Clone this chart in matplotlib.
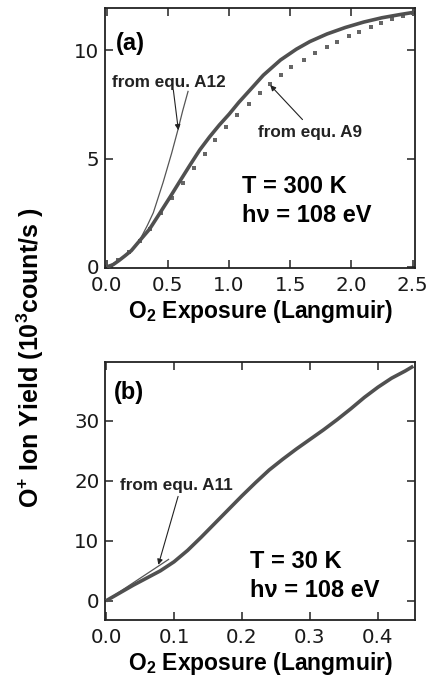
import matplotlib
matplotlib.use("Agg")
import matplotlib.pyplot as plt

plt.rcParams['font.family'] = ['Liberation Sans', 'DejaVu Sans']
plt.rcParams['mathtext.fontset'] = 'custom'
plt.rcParams['mathtext.rm'] = 'Liberation Sans'
plt.rcParams['mathtext.bf'] = 'Liberation Sans:bold'

# ---------------- Panel (a) data: T = 300 K ----------------
a_meas_x = [0, 0.05, 0.10, 0.15, 0.20, 0.27, 0.35, 0.43, 0.52, 0.60, 0.68, 0.76, 0.84,
            0.92, 1.00, 1.08, 1.17, 1.28, 1.42, 1.55, 1.66, 1.80, 1.95, 2.10, 2.25,
            2.40, 2.51]
a_meas_y = [0, 0.10, 0.30, 0.52, 0.75, 1.22, 1.75, 2.45, 3.25, 3.98, 4.70, 5.40, 6.00,
            6.55, 7.05, 7.60, 8.16, 8.85, 9.55, 10.05, 10.40, 10.75, 11.05, 11.30, 11.50,
            11.65, 11.75]

a_A9_x = [0.0, 0.09, 0.18, 0.27, 0.35, 0.44, 0.53, 0.62, 0.71, 0.80, 0.885, 0.975,
          1.067, 1.16, 1.25, 1.336, 1.426, 1.51, 1.61, 1.70, 1.80, 1.88, 1.98, 2.06,
          2.16, 2.24, 2.33, 2.42, 2.50]
a_A9_y = [0, 0.30, 0.70, 1.20, 1.75, 2.50, 3.20, 3.87, 4.55, 5.20, 5.85, 6.45,
          7.00, 7.54, 8.03, 8.46, 8.85, 9.24, 9.57, 9.87, 10.15, 10.37, 10.65, 10.83,
          11.07, 11.25, 11.42, 11.58, 11.72]

a_A12_x = [0, 0.10, 0.20, 0.27, 0.33, 0.38, 0.46, 0.53, 0.58, 0.62, 0.664]
a_A12_y = [0, 0.30, 0.75, 1.25, 1.90, 2.50, 3.90, 5.25, 6.30, 7.20, 8.10]

a_xticks = [0.0, 0.5, 1.0, 1.5, 2.0, 2.5]
a_xticklabels = ["0.0", "0.5", "1.0", "1.5", "2.0", "2.5"]
a_yticks = [0, 5, 10]

# ---------------- Panel (b) data: T = 30 K ----------------
b_meas_x = [0, 0.02, 0.04, 0.06, 0.08, 0.10, 0.12, 0.14, 0.16, 0.18, 0.20, 0.22, 0.24,
            0.26, 0.28, 0.30, 0.32, 0.34, 0.36, 0.38, 0.40, 0.42, 0.44, 0.452]
b_meas_y = [0, 1.3, 2.6, 3.8, 5.0, 6.5, 8.4, 10.6, 12.9, 15.2, 17.5, 19.7, 21.8,
            23.6, 25.3, 26.9, 28.5, 30.2, 32.0, 33.9, 35.6, 37.1, 38.3, 39.1]

b_A11_x = [0.0, 0.092]
b_A11_y = [0.0, 6.9]

b_xticks = [0.0, 0.1, 0.2, 0.3, 0.4]
b_xticklabels = ["0.0", "0.1", "0.2", "0.3", "0.4"]
b_yticks = [0, 10, 20, 30]

# ---------------- Figure ----------------
W, H = 427, 681
fig = plt.figure(figsize=(W / 100, H / 100), dpi=100)

ax_a = fig.add_axes([105 / W, 1 - 268 / H, 310 / W, 260 / H])
ax_b = fig.add_axes([105 / W, 1 - 620 / H, 310 / W, 258 / H])

line_col = '#505050'
frame_col = '#222222'

# panel a
ax_a.plot(a_meas_x, a_meas_y, color=line_col, lw=2.6, solid_capstyle='butt', zorder=3)
ax_a.plot(a_A9_x, a_A9_y, ls='none', marker='s', ms=3.0, color='#666666', mew=0, zorder=2)
ax_a.plot(a_A12_x, a_A12_y, color='#555555', lw=0.9, zorder=2)
ax_a.set_xlim(-0.015, 2.52)
ax_a.set_ylim(-0.05, 11.95)
ax_a.set_xticks(a_xticks)
ax_a.set_xticklabels(a_xticklabels)
ax_a.set_yticks(a_yticks)

# panel b
ax_b.plot(b_meas_x, b_meas_y, color=line_col, lw=2.6, solid_capstyle='butt', zorder=3)
ax_b.plot(b_A11_x, b_A11_y, color='#555555', lw=0.9, zorder=2)
ax_b.set_xlim(-0.0015, 0.4545)
ax_b.set_ylim(-3.2, 39.8)
ax_b.set_xticks(b_xticks)
ax_b.set_xticklabels(b_xticklabels)
ax_b.set_yticks(b_yticks)

for ax in (ax_a, ax_b):
    for sp in ax.spines.values():
        sp.set_linewidth(1.3)
        sp.set_color(frame_col)
    ax.tick_params(direction='in', top=True, right=True, length=6, width=1.1,
                   color=frame_col, labelsize=14.3, pad=6)
    ax.tick_params(axis='y', pad=4)
    for lab in ax.get_xticklabels() + ax.get_yticklabels():
        lab.set_family('DejaVu Sans')
        lab.set_color('#1a1a1a')
    ax.set_xlabel(r'O$_\mathbf{2}$ Exposure (Langmuir)', fontsize=16.5,
                  fontweight='bold', labelpad=2)

# texts panel a
ax_a.text(0.075, 10.3, '(a)', fontsize=17, fontweight='bold', va='center', ha='left')
ax_a.text(1.107, 3.41, 'T = 300 K', fontsize=17, fontweight='bold', ha='left', va='baseline')
ax_a.text(1.107, 2.07, 'hν = 108 eV', fontsize=17, fontweight='bold', ha='left', va='baseline')
ax_a.text(0.04, 8.3, 'from equ. A12', fontsize=12.3, fontweight='bold', ha='left',
          va='baseline', color='#222222')
ax_a.text(1.238, 6.0, 'from equ. A9', fontsize=12.3, fontweight='bold', ha='left',
          va='baseline', color='#222222')
arrow_kw = dict(arrowstyle='-|>', color='#222222', lw=0.8, mutation_scale=8,
                shrinkA=0, shrinkB=0)
ax_a.annotate('', xy=(0.585, 6.31), xytext=(0.544, 8.16), arrowprops=arrow_kw)
ax_a.annotate('', xy=(1.336, 8.39), xytext=(1.60, 6.8), arrowprops=arrow_kw)

# texts panel b
ax_b.text(0.011, 34.7, '(b)', fontsize=17, fontweight='bold', va='center', ha='left')
ax_b.text(0.212, 5.5, 'T = 30 K', fontsize=17, fontweight='bold', ha='left', va='baseline')
ax_b.text(0.212, 0.67, 'hν = 108 eV', fontsize=17, fontweight='bold', ha='left', va='baseline')
ax_b.text(0.0206, 18.5, 'from equ. A11', fontsize=12.3, fontweight='bold', ha='left',
          va='baseline', color='#222222')
ax_b.annotate('', xy=(0.077, 6.0), xytext=(0.106, 17.4), arrowprops=arrow_kw)

# shared y label
fig.text(30 / W, 1 - 358 / H, r'O$^\mathbf{+}$ Ion Yield (10$^\mathbf{3}$count/s )',
         rotation=90, fontsize=18, fontweight='bold', ha='center', va='center')

fig.savefig('out.png', dpi=100)
